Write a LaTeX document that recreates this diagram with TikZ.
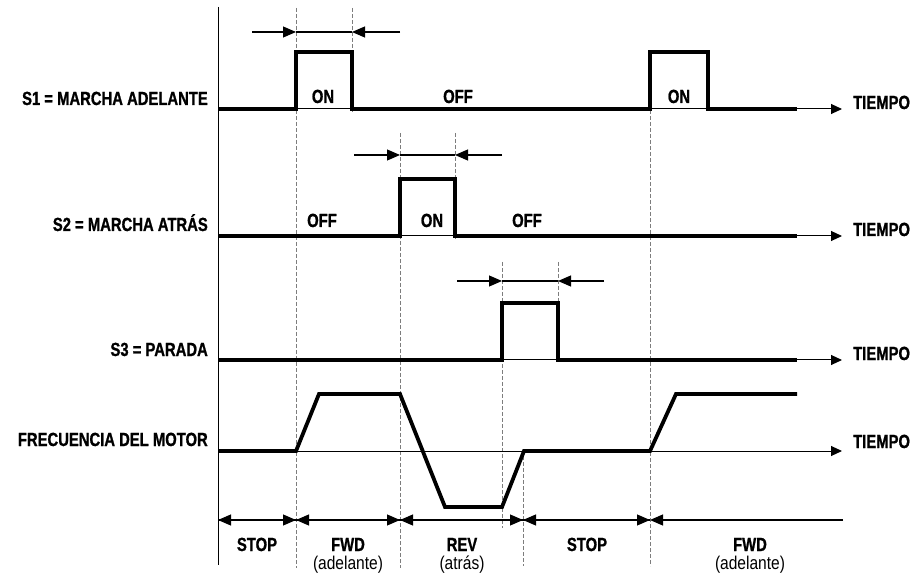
\documentclass[tikz,border=0pt]{standalone}
\usepackage{fontspec}
\setmainfont{Liberation Sans}[FakeStretch=0.78,BoldFeatures={FakeBold=1}]
\newfontfamily\subfont{Liberation Sans}[FakeStretch=0.84]
\usetikzlibrary{positioning,calc}
\usetikzlibrary{arrows.meta}
\definecolor{GuideGray}{RGB}{125,125,125}
\tikzset{
  axis/.style={draw=black,line width=1pt},
  sig/.style={draw=black,line width=3.8pt,line join=miter},
  guide/.style={draw=GuideGray,line width=0.9pt,dash pattern=on 4pt off 2pt},
  dim/.style={draw=black,line width=1.1pt},
  tip/.style={-{Triangle[length=13pt,width=11pt]}},
}
\tikzset{lab/.style={font=\bfseries\fontsize{19}{21}\selectfont,inner sep=0pt}, sub/.style={font=\subfont\fontsize{18.5}{21}\selectfont,inner sep=0pt}, axtip/.style={-{Triangle[length=11pt,width=10pt]}}}

\begin{document}
\begin{tikzpicture}[x=1pt,y=-1pt]
\useasboundingbox (0,0) rectangle (916,577);
\coordinate (top) at (218,7);
\coordinate (bot) at (218,565);
\coordinate (a1) at (218,109);
\coordinate (a2) at (218,236);
\coordinate (a3) at (218,360);
\coordinate (a4) at (218,451);
\coordinate (e1) at (842,109);
\coordinate (e2) at (842,236);
\coordinate (e3) at (842,360);
\coordinate (e4) at (842,451);
\draw[guide] (296,8) -- (296,568);
\draw[guide] (352,8) -- (352,112);
\draw[guide] (400,133) -- (400,568);
\draw[guide] (455,133) -- (455,240);
\draw[guide] (502,262) -- (502,528);
\draw[guide] (523,450) -- (523,566);
\draw[guide] (558,262) -- (558,363);
\draw[guide] (650,110) -- (650,566);
\draw[axis] (top) -- (bot);
\draw[axis,axtip] (a1) -- (e1);
\draw[axis,axtip] (a2) -- (e2);
\draw[axis,axtip] (a3) -- (e3);
\draw[axis,axtip] (a4) -- (e4);
\draw[sig] (218,109) -- (296,109) -- (296,52) -- (352,52) -- (352,109) -- (650,109) -- (650,52) -- (708,52) -- (708,109) -- (797,109);
\draw[sig] (218,236) -- (400,236) -- (400,179) -- (455,179) -- (455,236) -- (797,236);
\draw[sig] (218,360) -- (502,360) -- (502,303) -- (558,303) -- (558,360) -- (797,360);
\draw[sig] (218,451) -- (296,451) -- (319,394) -- (400,394) -- (445,507) -- (502,507) -- (524,451) -- (650,451) -- (676,394) -- (797,394);
\coordinate (p1l) at (252,32);
\coordinate (p1a) at (296,32);
\coordinate (p1b) at (352,32);
\coordinate (p1r) at (400,32);
\coordinate (p2l) at (354,155);
\coordinate (p2a) at (400,155);
\coordinate (p2b) at (455,155);
\coordinate (p2r) at (502,155);
\coordinate (p3l) at (457,281);
\coordinate (p3a) at (502,281);
\coordinate (p3b) at (558,281);
\coordinate (p3r) at (604,281);
\draw[dim,tip] (p1l) -- (p1a);
\draw[dim] (p1a) -- (p1b);
\draw[dim,tip] (p1r) -- (p1b);
\draw[dim,tip] (p2l) -- (p2a);
\draw[dim] (p2a) -- (p2b);
\draw[dim,tip] (p2r) -- (p2b);
\draw[dim,tip] (p3l) -- (p3a);
\draw[dim] (p3a) -- (p3b);
\draw[dim,tip] (p3r) -- (p3b);
\coordinate (b0) at (218,520);
\coordinate (b1) at (296,520);
\coordinate (b2) at (400,520);
\coordinate (b3) at (523,520);
\coordinate (b4) at (650,520);
\coordinate (b5) at (843,520);
\draw[dim,tip] (b0) -- (b1);
\draw[dim,tip] (b1) -- (b0);
\draw[dim,tip] (b1) -- (b2);
\draw[dim,tip] (b2) -- (b1);
\draw[dim,tip] (b2) -- (b3);
\draw[dim,tip] (b3) -- (b2);
\draw[dim,tip] (b3) -- (b4);
\draw[dim,tip] (b4) -- (b3);
\draw[dim,tip] (b5) -- (b4);
\node[lab,anchor=base east] (s1) at (208,105) {S1 = MARCHA ADELANTE};
\node[lab,anchor=base east] (s2) at (208,231) {S2 = MARCHA ATRÁS};
\node[lab,anchor=base east] (s3) at (208,356) {S3 = PARADA};
\node[lab,anchor=base east] (fm) at (208,446) {FRECUENCIA DEL MOTOR};
\node[lab,anchor=base west] (t1) at (853,109) {TIEMPO};
\node[lab,anchor=base west] (t2) at (853,236) {TIEMPO};
\node[lab,anchor=base west] (t3) at (853,360) {TIEMPO};
\node[lab,anchor=base west] (t4) at (853,448) {TIEMPO};
\node[lab,anchor=base] (on1) at (323,103) {ON};
\node[lab,anchor=base] (off1) at (458,103) {OFF};
\node[lab,anchor=base] (on2) at (679,103) {ON};
\node[lab,anchor=base] (off2) at (322,227) {OFF};
\node[lab,anchor=base] (on3) at (432,227) {ON};
\node[lab,anchor=base] (off3) at (527,227) {OFF};
\node[lab,anchor=base] (m1) at (257,551) {STOP};
\node[lab,anchor=base] (m2) at (348,551) {FWD};
\node[sub,anchor=base] (m2s) at (348,569) {(adelante)};
\node[lab,anchor=base] (m3) at (462,551) {REV};
\node[sub,anchor=base] (m3s) at (462,569) {(atrás)};
\node[lab,anchor=base] (m4) at (587,551) {STOP};
\node[lab,anchor=base] (m5) at (750,551) {FWD};
\node[sub,anchor=base] (m5s) at (750,569) {(adelante)};
\end{tikzpicture}
\end{document}
